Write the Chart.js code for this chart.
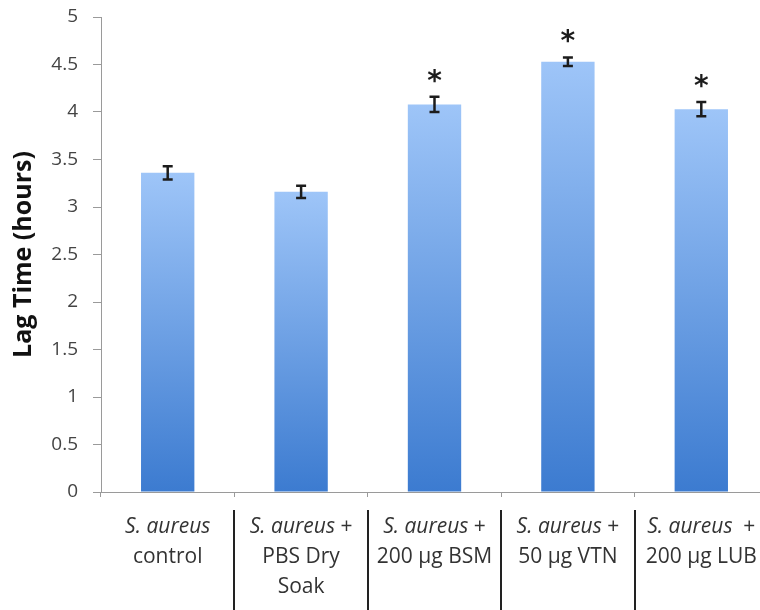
<!DOCTYPE html>
<html>
<head>
<meta charset="utf-8">
<script src="https://cdn.jsdelivr.net/npm/chart.js@4.4.0/dist/chart.umd.min.js"></script>
<style>
  html, body { margin: 0; padding: 0; background: #fff; overflow: hidden; }
  #wrap { position: absolute; left: 0; top: 0; width: 770px; height: 610px; }
</style>
</head>
<body>
<div id="wrap"><canvas id="lagChart" width="770" height="610"></canvas></div>
<script>
// Chart data
const categories = [
    ['S. aureus', 'control'],
    ['S. aureus +', 'PBS Dry', 'Soak'],
    ['S. aureus +', '200 \u00b5g BSM'],
    ['S. aureus +', '50 \u00b5g VTN'],
    ['S. aureus  +', '200 \u00b5g LUB']
];
const lagTime = [3.36, 3.16, 4.08, 4.53, 4.03];
const lagError = [0.07, 0.065, 0.08, 0.045, 0.075];
const significant = [false, false, true, true, true];
const yTicks = [0, 0.5, 1, 1.5, 2, 2.5, 3, 3.5, 4, 4.5, 5];

const FONT = '"Open Sans", Lato, sans-serif';

// Gradient for each bar, from its top (light) to the baseline (dark)
function barGradient(context) {
    const chart = context.chart;
    if (!chart.chartArea) return '#7aa8e8';
    const y = chart.scales.y;
    const v = context.raw;
    const g = chart.ctx.createLinearGradient(0, y.getPixelForValue(v), 0, y.getPixelForValue(0));
    g.addColorStop(0, '#9ec5f8');
    g.addColorStop(1, '#3c7bd0');
    return g;
}

// Error bars, asterisks, category labels and separators
const extrasPlugin = {
    id: 'extras',
    afterDatasetsDraw(chart) {
        const c = chart.ctx;
        const x = chart.scales.x;
        const y = chart.scales.y;
        c.save();
        c.strokeStyle = '#1c1c1c';
        c.lineWidth = 2.5;
        lagTime.forEach((v, i) => {
            const px = x.getPixelForValue(i);
            const top = y.getPixelForValue(v + lagError[i]);
            const bot = y.getPixelForValue(v - lagError[i]);
            c.beginPath();
            c.moveTo(px, top); c.lineTo(px, bot);
            c.moveTo(px - 5, top); c.lineTo(px + 5, top);
            c.moveTo(px - 5, bot); c.lineTo(px + 5, bot);
            c.stroke();
            if (significant[i]) {
                c.fillStyle = '#1c1c1c';
                c.font = 'bold 28px "DejaVu Sans"';
                c.textAlign = 'center';
                c.textBaseline = 'alphabetic';
                c.fillText('*', px, top - 7);
            }
        });
        c.restore();
    },
    afterDraw(chart) {
        const c = chart.ctx;
        const x = chart.scales.x;
        c.save();
        // separators between categories
        c.strokeStyle = '#222';
        c.lineWidth = 2;
        for (let i = 1; i < categories.length; i++) {
            const bx = Math.round((x.getPixelForValue(i - 1) + x.getPixelForValue(i)) / 2);
            c.beginPath();
            c.moveTo(bx, 510);
            c.lineTo(bx, 610);
            c.stroke();
        }
        // labels
        c.fillStyle = '#333';
        c.textBaseline = 'middle';
        c.textAlign = 'left';
        const base = 527, step = 30;
        const italic = 'italic 21px ' + FONT;
        const normal = '21px ' + FONT;
        categories.forEach((lines, i) => {
            const px = x.getPixelForValue(i);
            lines.forEach((line, j) => {
                const ly = base + j * step;
                let parts;
                if (line.startsWith('S. aureus')) {
                    parts = [['S. aureus', italic], [line.slice(9), normal]];
                } else {
                    parts = [[line, normal]];
                }
                let w = 0;
                parts.forEach(p => { c.font = p[1]; w += c.measureText(p[0]).width; });
                let cx = px - w / 2;
                parts.forEach(p => {
                    c.font = p[1];
                    c.fillText(p[0], cx, ly);
                    cx += c.measureText(p[0]).width;
                });
            });
        });
        c.restore();
    }
};

new Chart(document.getElementById('lagChart'), {
    type: 'bar',
    data: {
        labels: categories,
        datasets: [{
            data: lagTime,
            backgroundColor: barGradient,
            borderWidth: 0,
            barPercentage: 0.4,
            categoryPercentage: 1.0
        }]
    },
    options: {
        responsive: false,
        animation: false,
        layout: { padding: { top: 17, right: 2, left: 0, bottom: 0 } },
        plugins: {
            legend: { display: false },
            tooltip: { enabled: false }
        },
        scales: {
            x: {
                offset: true,
                grid: { offset: true, drawOnChartArea: false, drawTicks: true, tickLength: 5, color: '#9a9a9a' },
                border: { color: '#9a9a9a', width: 1 },
                ticks: { display: false },
                afterFit(scale) { scale.height = 118; }
            },
            y: {
                min: 0,
                max: 5,
                afterBuildTicks(scale) { scale.ticks = yTicks.map(v => ({ value: v })); },
                grid: { drawOnChartArea: false, drawTicks: true, tickLength: 8, color: '#9a9a9a' },
                border: { color: '#9a9a9a', width: 1 },
                ticks: {
                    color: '#444',
                    padding: 15,
                    font: { family: FONT, size: 19 },
                    callback: v => String(v)
                },
                title: {
                    display: true,
                    text: 'Lag Time (hours)',
                    color: '#111',
                    font: { family: FONT, size: 25, weight: 'bold' },
                    padding: { top: 9, bottom: 0 }
                },
                afterFit(scale) {
                    scale.width = 101;
                    scale.paddingTop = 0;
                    scale.paddingBottom = 0;
                }
            }
        }
    },
    plugins: [extrasPlugin]
});
</script>
</body>
</html>
